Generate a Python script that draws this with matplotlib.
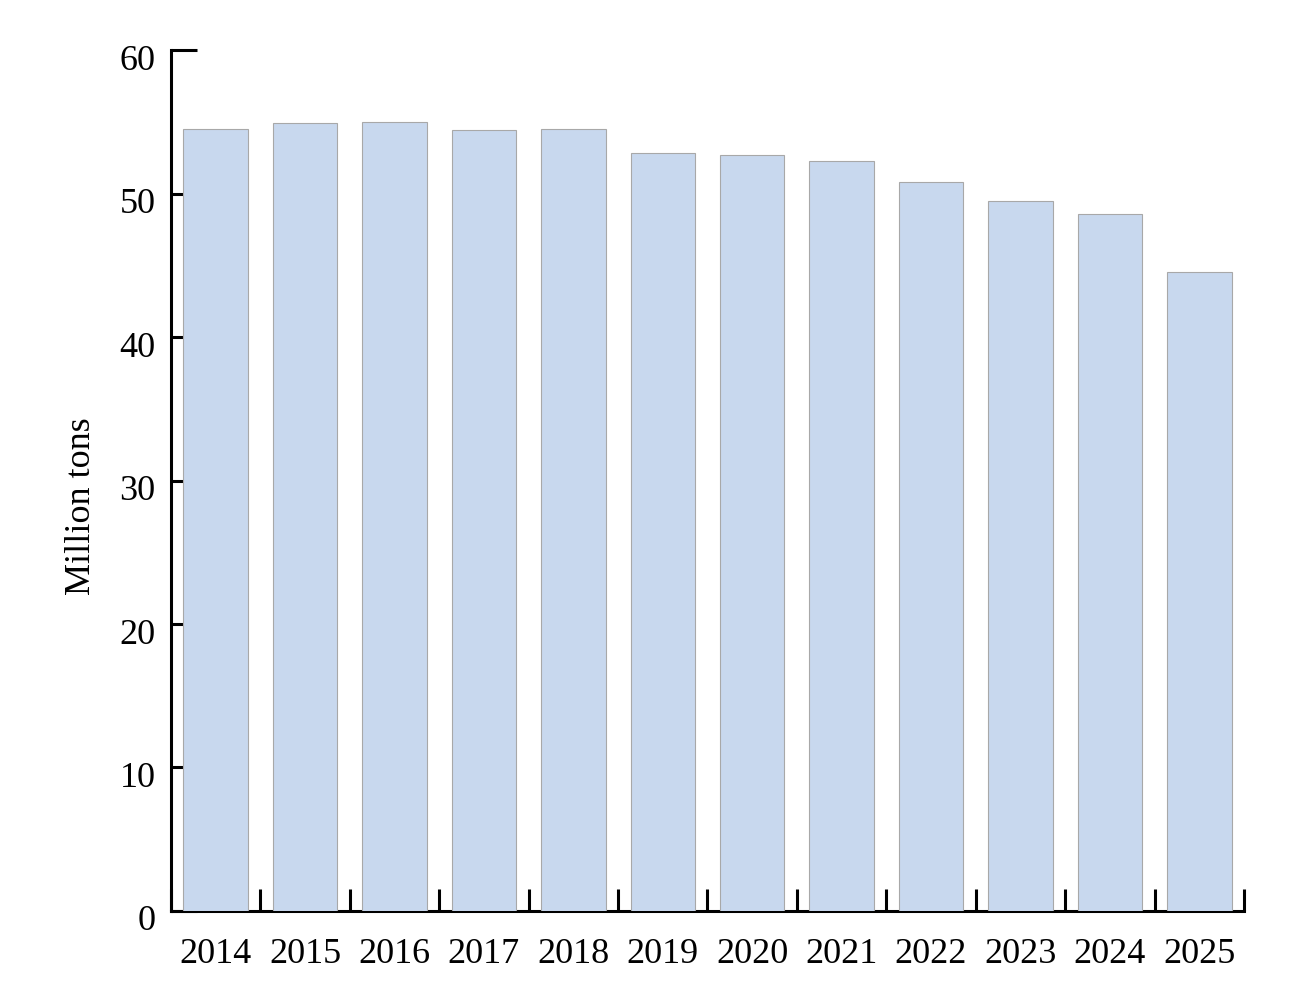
import matplotlib
matplotlib.use("Agg")
import matplotlib.pyplot as plt
import matplotlib.transforms as mtransforms
import numpy as np

years = ["2014", "2015", "2016", "2017", "2018", "2019", "2020", "2021", "2022", "2023", "2024", "2025"]
values = [54.5, 54.9, 55.0, 54.4, 54.5, 52.8, 52.7, 52.3, 50.8, 49.5, 48.6, 44.5]
y_ticks = [0, 10, 20, 30, 40, 50, 60]

plt.rcParams['font.family'] = ['Liberation Serif', 'DejaVu Serif']

fig = plt.figure(figsize=(13.12, 9.87), dpi=100)
ax = fig.add_axes([0.1303, 0.076, 0.8179, 0.8723])

x = np.arange(len(years))
ax.bar(x, values, width=0.72, color="#C8D8EE", edgecolor="#A8A8A8", linewidth=0.8, zorder=3)

ax.set_xlim(-0.5, len(years) - 0.5)
ax.set_ylim(0, 60)
ax.set_yticks(y_ticks)
ax.set_yticklabels([str(t) for t in y_ticks], fontsize=26)
ax.set_xticks(x)
ax.set_xticklabels(years, fontsize=26)
ax.set_xticks(np.arange(len(years) + 1) - 0.5, minor=True)

ax.tick_params(axis='x', which='major', length=0, pad=19)
ax.tick_params(axis='x', which='minor', direction='in', length=16, width=2.2, color='black')
ax.tick_params(axis='y', which='major', direction='in', length=19, width=2.2, pad=11)

offset = mtransforms.ScaledTranslation(0, -6 / 100, fig.dpi_scale_trans)
for lab in ax.get_yticklabels():
    lab.set_transform(lab.get_transform() + offset)

for s in ['top', 'right']:
    ax.spines[s].set_visible(False)
for s in ['left', 'bottom']:
    ax.spines[s].set_linewidth(2.2)
    ax.spines[s].set_zorder(2)

ax.set_ylabel("Million tons", fontsize=26, labelpad=16)
ax.yaxis.set_label_coords(-0.068, 0.4716)

fig.savefig("out.png", dpi=100)
